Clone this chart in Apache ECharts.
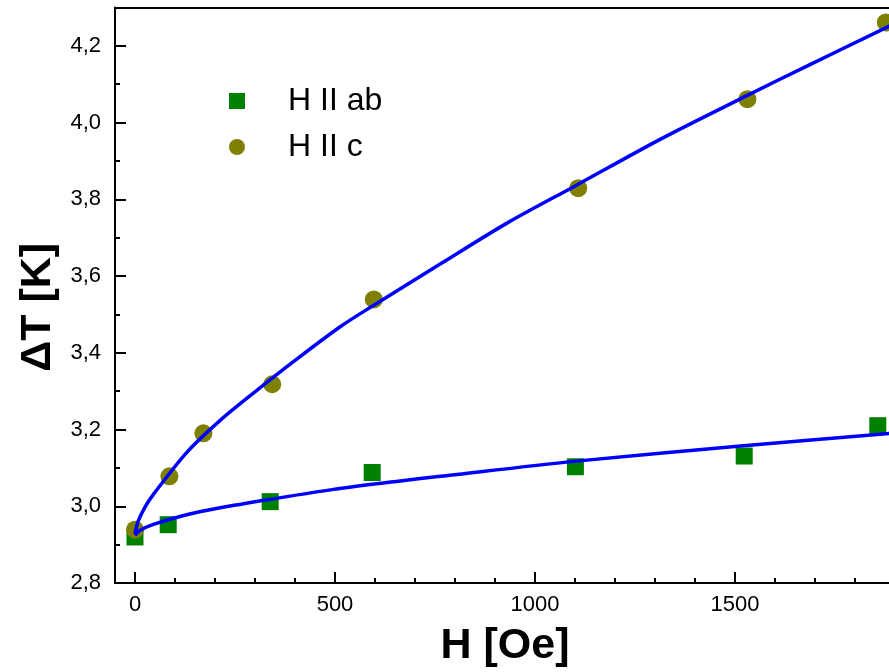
<!DOCTYPE html>
<html>
<head>
<meta charset="utf-8">
<title>ΔT vs H</title>
<script src="https://cdn.jsdelivr.net/npm/echarts@6/dist/echarts.min.js"></script>
<style>
  html, body { margin: 0; padding: 0; background: #fff; }
  #chart { width: 889px; height: 672px; }
</style>
</head>
<body>
<div id="chart"></div>
<script>
// Measured points, H || ab
const fieldAb = [0, 83, 338, 593, 1101, 1523, 1857];
const deltaTAb = [2.920, 2.952, 3.012, 3.088, 3.103, 3.131, 3.210];

// Measured points, H || c
const fieldC = [0, 86, 171, 343, 597, 1108, 1531, 1877];
const deltaTC = [2.939, 3.078, 3.190, 3.318, 3.539, 3.829, 4.061, 4.261];

// Fitted curve, H || ab
const fitFieldAb = [0, 12, 46, 129, 213, 338, 496, 663, 764, 1097, 1514, 1887];
const fitDeltaTAb = [2.924, 2.937, 2.953, 2.978, 2.996, 3.018, 3.044, 3.066, 3.078, 3.117, 3.157, 3.190];

// Fitted curve, H || c
const fitFieldC = [0, 8, 25, 46, 129, 213, 296, 396, 513, 597, 764, 930, 1097, 1314, 1531, 1681, 1887];
const fitDeltaTC = [2.929, 2.961, 2.998, 3.031, 3.140, 3.224, 3.295, 3.377, 3.468, 3.524, 3.632, 3.738, 3.833, 3.957, 4.071, 4.148, 4.252];

// Axis ticks
const xTickValues = [0, 500, 1000, 1500];
const xMinorTickValues = [100, 200, 300, 400, 600, 700, 800, 900, 1100, 1200, 1300, 1400, 1600, 1700, 1800];
const yTickValues = [2.8, 3.0, 3.2, 3.4, 3.6, 3.8, 4.0, 4.2];
const yMinorTickValues = [2.9, 3.1, 3.3, 3.5, 3.7, 3.9, 4.1];

const seriesNames = ['H II ab', 'H II c'];
const xTitle = 'H [Oe]';
const yTitle = 'ΔT [K]';

const FONT = '"Liberation Sans", Arial, sans-serif';
const zip = (xs, ys) => xs.map((x, i) => [x, ys[i]]);
const commaFmt = v => Number(v).toFixed(1).replace('.', ',');
const plainFmt = v => String(v);

const X_MIN = -50, X_MAX = 1900, Y_MIN = 2.8, Y_MAX = 4.3;

const chart = echarts.init(document.getElementById('chart'), null, { renderer: 'canvas' });

const option = {
  backgroundColor: '#ffffff',
  animation: false,
  grid: { left: 115, top: 7.5, width: 780, height: 575.5, containLabel: false, outerBoundsMode: 'none' },
  legend: {
    orient: 'vertical',
    left: 224,
    top: 80,
    itemWidth: 92,
    itemHeight: 16,
    itemGap: 14,
    symbolKeepAspect: true,
    data: [
      { name: seriesNames[0], icon: 'path://M0,0H10V10H0Z' },
      { name: seriesNames[1], icon: 'circle' }
    ],
    textStyle: { fontFamily: FONT, fontSize: 32, color: '#000' }
  },
  xAxis: [
    {
      type: 'value', position: 'bottom', min: X_MIN, max: X_MAX,
      name: xTitle, nameLocation: 'middle', nameGap: 42,
      nameTextStyle: { fontFamily: FONT, fontSize: 43, fontWeight: 'bold', color: '#000' },
      axisLine: { show: true, onZero: false, lineStyle: { color: '#000', width: 2 } },
      axisTick: { show: true, inside: true, length: 11, lineStyle: { color: '#000', width: 2 }, customValues: xTickValues },
      axisLabel: { show: true, margin: 11, fontFamily: FONT, fontSize: 22, color: '#000', customValues: xTickValues, formatter: plainFmt },
      splitLine: { show: false }
    },
    {
      type: 'value', position: 'bottom', min: X_MIN, max: X_MAX,
      axisLine: { show: false, onZero: false },
      axisTick: { show: true, inside: true, length: 5, lineStyle: { color: '#000', width: 2 }, customValues: xMinorTickValues },
      axisLabel: { show: false },
      splitLine: { show: false }
    },
    {
      type: 'value', position: 'top', min: X_MIN, max: X_MAX,
      axisLine: { show: true, onZero: false, lineStyle: { color: '#000', width: 2 } },
      axisTick: { show: false },
      axisLabel: { show: false },
      splitLine: { show: false }
    }
  ],
  yAxis: [
    {
      type: 'value', position: 'left', min: Y_MIN, max: Y_MAX,
      name: yTitle, nameLocation: 'middle', nameGap: 54, nameRotate: 90,
      nameTextStyle: { fontFamily: FONT, fontSize: 43, fontWeight: 'bold', color: '#000', padding: [0, 24, 0, 0] },
      axisLine: { show: true, onZero: false, lineStyle: { color: '#000', width: 2 } },
      axisTick: { show: true, inside: true, length: 11, lineStyle: { color: '#000', width: 2 }, customValues: yTickValues },
      axisLabel: { show: true, margin: 14, fontFamily: FONT, fontSize: 22, color: '#000', customValues: yTickValues, formatter: commaFmt },
      splitLine: { show: false }
    },
    {
      type: 'value', position: 'left', min: Y_MIN, max: Y_MAX,
      axisLine: { show: false, onZero: false },
      axisTick: { show: true, inside: true, length: 5, lineStyle: { color: '#000', width: 2 }, customValues: yMinorTickValues },
      axisLabel: { show: false },
      splitLine: { show: false }
    }
  ],
  series: [
    {
      name: seriesNames[0], type: 'scatter', xAxisIndex: 0, yAxisIndex: 0,
      symbol: 'rect', symbolSize: 17, z: 2,
      itemStyle: { color: '#008000', opacity: 1 },
      data: zip(fieldAb, deltaTAb)
    },
    {
      name: seriesNames[1], type: 'scatter', xAxisIndex: 0, yAxisIndex: 0,
      symbol: 'circle', symbolSize: 18, z: 3,
      itemStyle: { color: '#808000', opacity: 1 },
      data: zip(fieldC, deltaTC)
    },
    {
      name: 'fit ab', type: 'line', xAxisIndex: 0, yAxisIndex: 0,
      showSymbol: false, symbol: 'none', smooth: 0.3, z: 4,
      lineStyle: { color: '#0000ff', width: 3.5 },
      data: zip(fitFieldAb, fitDeltaTAb)
    },
    {
      name: 'fit c', type: 'line', xAxisIndex: 0, yAxisIndex: 0,
      showSymbol: false, symbol: 'none', smooth: 0.3, z: 4,
      lineStyle: { color: '#0000ff', width: 3.5 },
      data: zip(fitFieldC, fitDeltaTC)
    }
  ]
};

chart.setOption(option);
</script>
</body>
</html>
